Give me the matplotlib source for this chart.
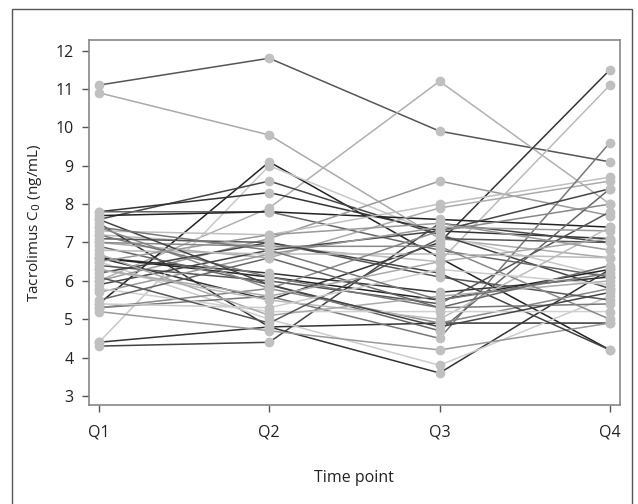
import numpy as np
import matplotlib
matplotlib.use("Agg")
import matplotlib.pyplot as plt
from matplotlib.patches import Rectangle

plt.rcParams['font.family'] = ['Open Sans', 'DejaVu Sans']

time_points = ["Q1", "Q2", "Q3", "Q4"]

# tacrolimus trough level per patient at Q1..Q4 (ng/mL)
patients = [
    [11.1, 11.8, 9.9, 9.1],
    [10.9, 9.8, 7.1, 6.6],
    [6.0, 7.9, 11.2, 8.0],
    [6.6, 5.5, 7.0, 11.5],
    [7.2, 6.9, 6.5, 11.1],
    [5.4, 9.1, 6.6, 4.2],
    [4.4, 9.0, 7.2, 6.1],
    [7.6, 8.6, 7.2, 5.8],
    [7.8, 8.3, 7.3, 7.1],
    [7.8, 7.8, 6.8, 6.1],
    [7.7, 7.8, 7.6, 7.4],
    [4.4, 4.8, 4.9, 4.9],
    [4.3, 4.4, 7.5, 7.0],
    [7.5, 4.8, 3.6, 6.3],
    [6.5, 5.0, 3.8, 5.6],
    [5.2, 4.7, 4.2, 4.9],
    [6.0, 7.1, 8.6, 7.7],
    [7.3, 7.2, 8.0, 8.7],
    [7.0, 6.6, 7.9, 8.6],
    [5.3, 5.6, 4.5, 9.6],
    [6.6, 6.2, 5.7, 6.1],
    [6.6, 6.1, 5.5, 6.3],
    [6.4, 6.0, 5.4, 7.8],
    [5.9, 6.8, 7.3, 8.4],
    [6.9, 5.9, 4.7, 8.4],
    [7.4, 5.8, 4.9, 5.8],
    [7.1, 7.0, 6.1, 5.5],
    [5.7, 6.7, 7.4, 7.3],
    [6.2, 7.0, 6.2, 4.2],
    [6.8, 6.7, 6.7, 6.6],
    [5.3, 5.8, 7.3, 8.0],
    [7.2, 6.1, 5.3, 5.4],
    [6.3, 5.5, 5.0, 7.4],
    [5.8, 5.2, 5.2, 5.2],
    [6.7, 5.1, 5.6, 6.0],
    [6.1, 4.9, 7.1, 7.0],
    [7.0, 6.9, 6.9, 5.0],
    [5.5, 6.6, 5.3, 6.4],
    [7.6, 5.9, 4.8, 5.7],
    [6.5, 7.2, 7.5, 6.8],
    [5.4, 5.3, 6.3, 5.9],
    [7.4, 6.8, 5.5, 6.2],
    [6.3, 5.6, 6.5, 7.1],
]

# grey shade of each patient's line
shades = ['#555555', '#aaaaaa', '#b0b0b0', '#333333', '#bbbbbb', '#222222', '#c8c8c8',
          '#444444', '#333333', '#666666', '#222222', '#333333', '#444444', '#333333',
          '#cccccc', '#999999', '#999999', '#c0c0c0', '#aaaaaa', '#777777', '#333333',
          '#222222', '#555555', '#444444', '#666666', '#888888', '#555555', '#999999',
          '#444444', '#bbbbbb', '#888888', '#777777', '#bbbbbb', '#d0d0d0', '#aaaaaa',
          '#555555', '#888888', '#666666', '#444444', '#999999', '#cccccc', '#777777',
          '#aaaaaa']

fig = plt.figure(figsize=(6.38, 5.04), dpi=100)
fig.patches.append(Rectangle((12 / 638, -0.01), 620 / 638, 1 - 9 / 504 + 0.01,
                             transform=fig.transFigure, fill=False,
                             edgecolor='#555555', linewidth=1.0))

ax = fig.add_axes([0.139, 0.196, 0.833, 0.725])
x = np.arange(len(time_points))
for vals, c in zip(patients, shades):
    ax.plot(x, vals, color=c, linewidth=1.1, zorder=2)
for vals in patients:
    ax.plot(x, vals, linestyle='none', marker='o', markersize=6,
            color='#c0c0c0', zorder=3)

ax.set_xlim(-0.06, 3.06)
ax.set_ylim(2.76, 12.28)
ax.set_xticks(x)
ax.set_xticklabels(time_points)
ax.set_yticks(range(3, 13))
ax.tick_params(axis='both', direction='out', length=5, width=1, color='#555555',
               labelsize=11.5, colors='#222222')
ax.tick_params(axis='x', pad=9)
ax.tick_params(axis='y', pad=6)
for s in ax.spines.values():
    s.set_color('#888888')
    s.set_linewidth(1.2)

ax.set_ylabel('Tacrolimus C$_0$ (ng/mL)', fontsize=11, color='#222222', labelpad=8)
ax.set_xlabel('Time point', fontsize=11.5, color='#222222', labelpad=21)

fig.savefig('out.png', dpi=100)
